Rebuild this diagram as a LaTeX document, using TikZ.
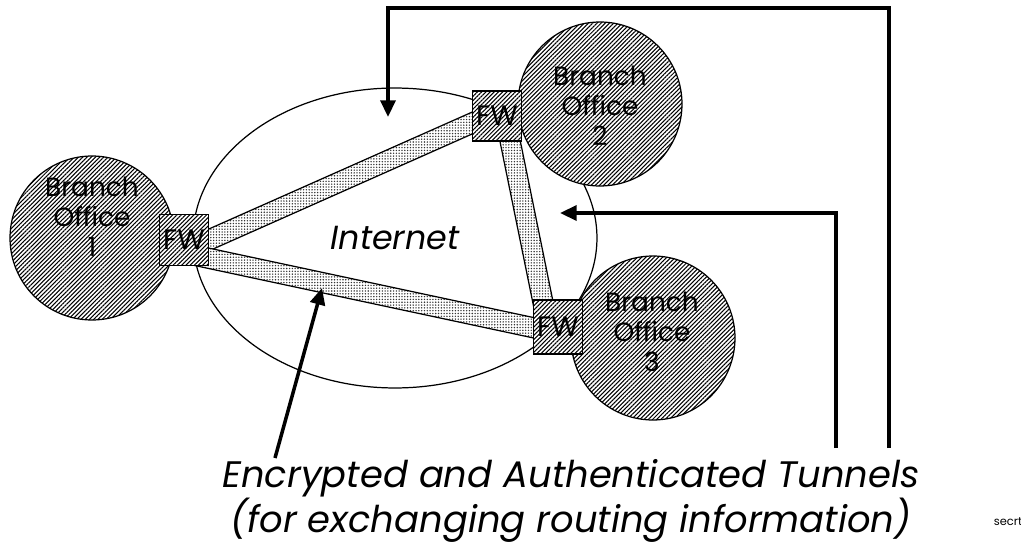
\documentclass[tikz,border=0pt]{standalone}
\usepackage{fontspec}
\setmainfont{Poppins}
\usetikzlibrary{patterns.meta,arrows.meta,calc,shapes.geometric}
\tikzset{
  outl/.style={draw=black,line width=0.7pt},
  hatch/.style={outl,preaction={fill=white},pattern={Lines[angle=45,distance=1.7pt,line width=0.6pt]},pattern color=black},
  dotfill/.style={outl,preaction={fill=white},pattern={Dots[distance=1.6pt,radius=0.45pt]},pattern color=black!80},
  office/.style={hatch,circle,minimum size=3.28cm,inner sep=0pt},
  offtext/.style={align=center,font=\fontsize{15}{17}\selectfont,inner sep=0pt},
  fwbox/.style={hatch,rectangle,minimum width=0.98cm,minimum height=1.02cm,inner sep=0pt,font=\fontsize{16}{18}\selectfont},
  arr/.style={line width=2pt,-{Triangle[length=9.5pt,width=8.5pt]}},
  captext/.style={align=center,font=\fontsize{21}{22}\selectfont\itshape,inner sep=0pt}
}
\newcommand\tunnelband[2]{\draw[dotfill] ($(#1)!0.2cm!90:(#2)$) -- ($(#2)!0.2cm!-90:(#1)$) -- ($(#2)!0.2cm!90:(#1)$) -- ($(#1)!0.2cm!-90:(#2)$) -- cycle;}
\begin{document}
\begin{tikzpicture}[x=0.02cm,y=-0.02cm]
\useasboundingbox (0,0) rectangle (1021,544);
% Internet
\node[outl,ellipse,minimum width=8.08cm,minimum height=6cm,inner sep=0pt,font=\fontsize{19}{22}\selectfont\itshape] (inet) at (395,238) {Internet};
% offices
\node[office] (bo1) at (92,238) {};
\node[office] (bo2) at (600,104) {};
\node[office] (bo3) at (653,338) {};
\node[offtext] (bo1t) at (92,217) {Branch\\Office\\1};
\node[offtext] (bo2t) at (600,106) {Branch\\Office\\2};
\node[offtext] (bo3t) at (652,332) {Branch\\Office\\3};
% tunnels
\coordinate (t12a) at (184,251); \coordinate (t12b) at (497,112);
\coordinate (t13a) at (184,253); \coordinate (t13b) at (558,333);
\coordinate (t23a) at (505,116); \coordinate (t23b) at (548,327);
\tunnelband{t12a}{t12b}
\tunnelband{t13a}{t13b}
\tunnelband{t23a}{t23b}
% firewalls
\node[fwbox] (fw1) at (184,240) {FW};
\node[fwbox,minimum height=1.0cm] (fw2) at (497,116) {FW};
\node[fwbox,minimum height=1.08cm] (fw3) at (558,327) {FW};
% arrows
\coordinate (a1s) at (889,448); \coordinate (a1c) at (889,8); \coordinate (a1d) at (388,8); \coordinate (a1e) at (388,117);
\draw[arr] (a1s) -- (a1c) -- (a1d) -- (a1e);
\coordinate (a2s) at (836,448); \coordinate (a2c) at (836,213); \coordinate (a2e) at (560,213);
\draw[arr] (a2s) -- (a2c) -- (a2e);
\coordinate (a3s) at (275,458); \coordinate (a3e) at (322,288);
\draw[arr] (a3s) -- (a3e);
% caption
\node[captext] (cap) at (571,501) {Encrypted and Authenticated Tunnels\\(for exchanging routing information)};
\node[font=\fontsize{6.5}{8}\selectfont,inner sep=0pt] (secrt) at (1008,522) {secrt};
\end{tikzpicture}
\end{document}
